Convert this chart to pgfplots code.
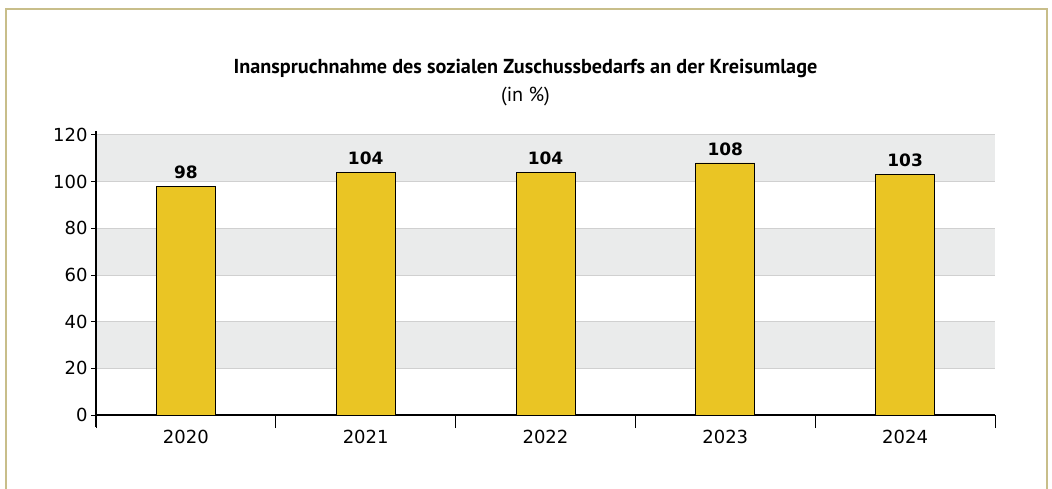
\documentclass[border=0pt]{standalone}
\usepackage{fontspec}
\usepackage{pgfplots}
\pgfplotsset{compat=1.18}
\setmainfont{DejaVu Sans}
\newfontfamily\titlefont{PT Sans}
\definecolor{framec}{RGB}{200,190,138}
\definecolor{barc}{RGB}{234,197,36}
\definecolor{bandc}{RGB}{234,235,235}
\definecolor{gridc}{RGB}{208,208,208}
\begin{document}
\begin{tikzpicture}
\draw[framec, line width=1.3pt] (6pt,-5pt) -- (6pt,479pt) -- (1047pt,479pt) -- (1047pt,-5pt);
\node[anchor=base] at (525.5pt,414pt) {\titlefont\fontsize{20.2}{24}\selectfont\bfseries Inanspruchnahme des sozialen Zuschussbedarfs an der Kreisumlage};
\node[anchor=base] at (525.5pt,386pt) {\titlefont\fontsize{20.2}{24}\selectfont (in \%)};
\begin{axis}[
  set layers,
  at={(96pt,73pt)}, anchor=south west,
  scale only axis, width=899pt, height=280pt,
  xmin=-0.5, xmax=4.5, ymin=0, ymax=120,
  axis x line*=bottom, axis y line*=left,
  axis line style={black, line width=2.2pt},
  y axis line style={shorten >=-4pt, shorten <=-12pt},
  ytick={0,20,...,120},
  ymajorgrids, grid style={gridc, line width=1pt},
  ytick style={black, line width=1pt},
  major tick length=5pt, tick align=outside,
  xtick={-0.5,0.5,...,4.5},
  x tick label as interval,
  xticklabels={2020,2021,2022,2023,2024},
  xtick style={black, line width=1pt, /pgfplots/major tick length=13pt},
  /pgf/number format/assume math mode=true,
  ticklabel style={font=\fontsize{18}{21}\selectfont},
  xticklabel style={yshift=-7pt},
  ybar, bar width=59pt,
  nodes near coords,
  nodes near coords style={font=\fontsize{17}{20}\selectfont\bfseries, anchor=south, inner sep=0pt, yshift=7pt},
]
\pgfplotsextra{%
\begin{pgfonlayer}{axis background}
\fill[bandc] (axis cs:-0.5,100) rectangle (axis cs:4.5,120);
\fill[bandc] (axis cs:-0.5,60) rectangle (axis cs:4.5,80);
\fill[bandc] (axis cs:-0.5,20) rectangle (axis cs:4.5,40);
\end{pgfonlayer}}
\addplot[fill=barc, draw=black, line width=0.9pt] coordinates {(0,98) (1,104) (2,104) (3,108) (4,103)};
\end{axis}
\pgfresetboundingbox
\path[use as bounding box] (0,0) rectangle (1052pt,488pt);
\end{tikzpicture}
\end{document}
